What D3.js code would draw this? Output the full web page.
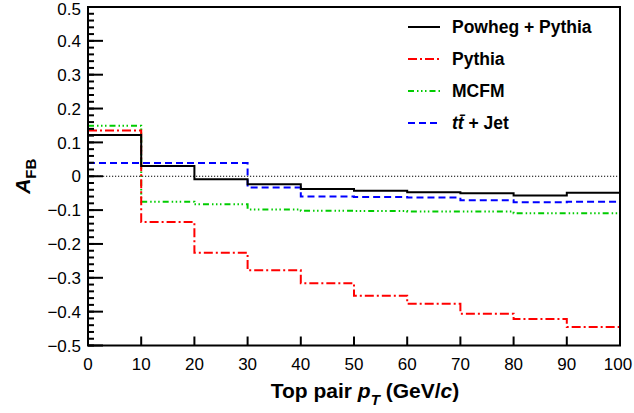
<!DOCTYPE html>
<html>
<head>
<meta charset="utf-8">
<script src="https://cdn.jsdelivr.net/npm/d3@7"></script>
<style>
  body { margin: 0; background: #fff; }
  text { font-family: "Liberation Sans", Arial, sans-serif; }
</style>
</head>
<body>
<div id="chart"></div>
<script>
// bin edges (GeV/c)
var binEdges = [0, 10, 20, 30, 40, 50, 60, 70, 80, 90, 100];

// A_FB per bin
var powhegValues = [0.122, 0.030, -0.009, -0.024, -0.038, -0.043, -0.047, -0.050, -0.057, -0.049];
var pythiaValues = [0.135, -0.135, -0.226, -0.278, -0.316, -0.353, -0.377, -0.406, -0.422, -0.445];
var mcfmValues = [0.149, -0.075, -0.083, -0.098, -0.102, -0.103, -0.104, -0.104, -0.109, -0.109];
var ttjetValues = [0.039, 0.039, 0.039, -0.033, -0.060, -0.061, -0.063, -0.071, -0.077, -0.075];

var xTicks = [0, 10, 20, 30, 40, 50, 60, 70, 80, 90, 100];
var yTicks = [-0.5, -0.4, -0.3, -0.2, -0.1, 0, 0.1, 0.2, 0.3, 0.4, 0.5];

var series = [
    {name: "Powheg + Pythia", values: powhegValues, color: "#000", dash: null},
    {name: "Pythia", values: pythiaValues, color: "#ff0000", dash: "9,3,2,3"},
    {name: "MCFM", values: mcfmValues, color: "#00cc00", dash: "6,3,1.5,2.5,1.5,2.5,1.5,3"},
    {name: "ttjet", values: ttjetValues, color: "#0000ff", dash: "7,4"}
];

// init size
var width = 634, height = 413;
var margin = {left: 88, top: 7, right: 14, bottom: 67.5};

var svg = d3.select("#chart")
    .append("svg")
    .attr("width", width)
    .attr("height", height);

var x = d3.scaleLinear()
    .domain([0, 100])
    .range([margin.left, width - margin.right]);

var y = d3.scaleLinear()
    .domain([-0.5, 0.5])
    .range([height - margin.bottom, margin.top]);

// zero line
svg.append("line")
    .attr("x1", x(0)).attr("x2", x(100))
    .attr("y1", y(0)).attr("y2", y(0))
    .attr("stroke", "#000")
    .attr("stroke-width", 1.2)
    .attr("stroke-dasharray", "1.2,1.8");

// histograms as steps
function stepPath(values) {
    var p = d3.path();
    values.forEach(function(v, i) {
        if (i == 0) p.moveTo(x(binEdges[0]), y(v));
        else p.lineTo(x(binEdges[i]), y(v));
        p.lineTo(x(binEdges[i + 1]), y(v));
    });
    return p.toString();
}

svg.selectAll("path.hist")
    .data(series.slice().reverse())
    .enter().append("path")
    .attr("class", "hist")
    .attr("d", d => stepPath(d.values))
    .attr("fill", "none")
    .attr("stroke", d => d.color)
    .attr("stroke-width", 2)
    .attr("stroke-dasharray", d => d.dash);

// frame
svg.append("rect")
    .attr("x", x(0)).attr("y", y(0.5))
    .attr("width", x(100) - x(0))
    .attr("height", y(-0.5) - y(0.5))
    .attr("fill", "none")
    .attr("stroke", "#000")
    .attr("stroke-width", 2);

// y ticks (inward)
var yMinor = d3.range(-0.5, 0.5001, 0.02);
svg.append("g").selectAll("line")
    .data(yMinor)
    .enter().append("line")
    .attr("x1", x(0)).attr("x2", x(0) + 6)
    .attr("y1", d => y(d)).attr("y2", d => y(d))
    .attr("stroke", "#000").attr("stroke-width", 2);

svg.append("g").selectAll("line")
    .data(yTicks)
    .enter().append("line")
    .attr("x1", x(0)).attr("x2", x(0) + 15)
    .attr("y1", d => y(d)).attr("y2", d => y(d))
    .attr("stroke", "#000").attr("stroke-width", 2);

svg.append("g").selectAll("text")
    .data(yTicks)
    .enter().append("text")
    .attr("x", x(0) - 7)
    .attr("y", d => d == 0.5 ? y(d) + 2 : y(d))
    .attr("dy", "0.36em")
    .attr("text-anchor", "end")
    .attr("font-size", 17)
    .text(d => d3.format("")(+d.toFixed(1)));

// x ticks (inward)
svg.append("g").selectAll("line")
    .data(xTicks)
    .enter().append("line")
    .attr("x1", d => x(d)).attr("x2", d => x(d))
    .attr("y1", y(-0.5)).attr("y2", y(-0.5) - 9)
    .attr("stroke", "#000").attr("stroke-width", 2);

svg.append("g").selectAll("text")
    .data(xTicks)
    .enter().append("text")
    .attr("x", d => d == 100 ? x(d) - 2 : x(d))
    .attr("y", y(-0.5) + 24)
    .attr("text-anchor", "middle")
    .attr("font-size", 17)
    .text(d => d);

// axis titles
var xTitle = svg.append("text")
    .attr("x", x(50) + 11)
    .attr("y", 398)
    .attr("text-anchor", "middle")
    .attr("font-size", 21)
    .attr("font-weight", "bold");
xTitle.append("tspan").text("Top pair ");
xTitle.append("tspan").attr("font-style", "italic").text("p");
xTitle.append("tspan").attr("font-style", "italic").attr("font-size", 15).attr("dy", 7).text("T");
xTitle.append("tspan").attr("dy", -7).text(" (GeV/");
xTitle.append("tspan").attr("font-style", "italic").text("c");
xTitle.append("tspan").text(")");

var yTitle = svg.append("text")
    .attr("transform", "translate(30," + y(0) + ") rotate(-90)")
    .attr("text-anchor", "middle")
    .attr("font-size", 21)
    .attr("font-weight", "bold");
yTitle.append("tspan").attr("font-style", "italic").text("A");
yTitle.append("tspan").attr("font-size", 15).attr("dy", 6).text("FB");

// legend
var legend = svg.append("g").selectAll("g")
    .data(series)
    .enter().append("g")
    .attr("transform", (d, i) => "translate(0," + (27 + i * 32) + ")");

legend.append("line")
    .attr("x1", 408).attr("x2", 440)
    .attr("stroke", d => d.color)
    .attr("stroke-width", 2)
    .attr("stroke-dasharray", d => d.dash);

legend.each(function(d) {
    var t = d3.select(this).append("text")
        .attr("x", 452)
        .attr("dy", "0.36em")
        .attr("font-size", 17.5)
        .attr("font-weight", "bold");
    if (d.name == "ttjet") {
        t.append("tspan").attr("font-style", "italic").text("t");
        t.append("tspan").attr("font-style", "italic").text("t\u0304");
        t.append("tspan").text(" + Jet");
    }
    else {
        t.text(d.name);
    }
});
</script>
</body>
</html>
